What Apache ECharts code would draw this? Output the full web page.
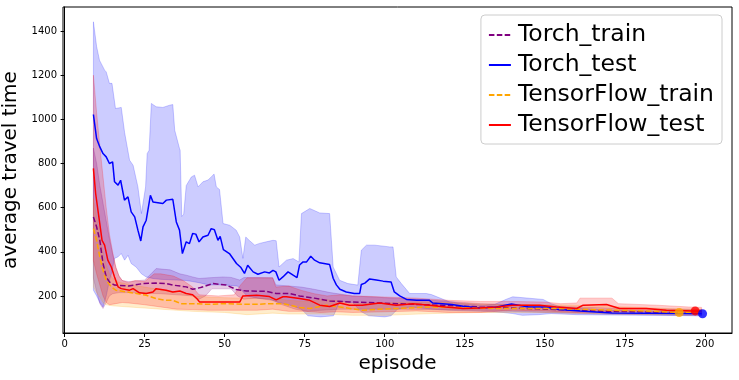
<!DOCTYPE html>
<html>
<head>
<meta charset="utf-8">
<script src="https://cdn.jsdelivr.net/npm/echarts@6/dist/echarts.min.js"></script>
<style>
  html, body { margin: 0; padding: 0; background: #fff; }
  #main { width: 739px; height: 380px; }
</style>
</head>
<body>
<div id="main"></div>
<script>
// tick labels
var xTicks = [0, 25, 50, 75, 100, 125, 150, 175, 200];
var yTicks = [200, 400, 600, 800, 1000, 1200, 1400];

// Torch_test (blue) mean and band, [episode, value]
var torchTestMean = [[9,1022],[10,913],[11,875],[12,845],[13,830],[14,800],[15,807],[15.6,717],[16.7,702],[17.5,724],[18.7,634],[19.8,649],[20.8,581],[21.9,558],[22.9,498],[23.8,449],[24.5,513],[25.5,543],[26.8,656],[27.6,626],[30.7,619],[31.8,634],[33.8,638],[34.9,535],[35.9,498],[36.8,392],[38,445],[39,437],[40,483],[41,480],[42,445],[43.2,467],[44.8,475],[45.8,505],[46.8,500],[47.9,452],[48.6,470],[49.6,410],[51.6,390],[53.7,347],[55,330],[56.2,302],[57.2,339],[58.9,309],[60.4,298],[62.5,309],[64,304],[65.1,316],[66,309],[67,271],[68.2,286],[69.8,309],[71.4,294],[72.6,283],[73.4,340],[74.5,354],[75.6,354],[76.9,380],[78.1,362],[79.7,350],[82.8,342],[83.9,280],[84.9,250],[86,230],[88,218],[90.5,211],[92.2,211],[92.7,252],[93.8,258],[95.3,277],[97.4,272],[99.5,267],[102,263],[103,218],[104.7,200],[106.8,184],[110,180],[114,180],[115,168],[118,165],[121,161],[124.5,153],[129.7,145],[135,150],[139.6,163],[145,150],[150.7,150],[153.6,140],[161,132],[171,123],[181.7,122],[192,120],[199,119]];
var torchTestUpper = [[9,1442],[10,1330],[10.9,1268],[12.5,1223],[13,1215],[14,1163],[14.8,1163],[15.9,1049],[17.7,1054],[18.75,940],[20.3,815],[21.4,792],[22.9,694],[24,573],[25.3,694],[25.8,845],[26.4,860],[27.1,1072],[28.6,1057],[30.7,1054],[32.8,1064],[33.8,1067],[34.4,951],[35.9,868],[36.1,860],[36.6,560],[37.2,570],[38,700],[39.6,739],[40.6,747],[41.7,694],[43.2,717],[44.8,725],[45.8,739],[46.7,752],[47.4,694],[48.4,682],[49.5,528],[51.6,520],[53.6,498],[54.7,467],[55.7,370],[56.6,467],[57.8,450],[59.4,430],[60.9,438],[63,445],[65.1,452],[66.1,450],[67,331],[69.3,362],[71.4,369],[73.2,354],[74,573],[76.6,596],[79.7,576],[82.8,573],[83.9,331],[85.9,271],[88.5,256],[91.6,249],[92.7,407],[94.3,430],[96.9,430],[101.6,422],[102.6,422],[103.6,286],[105.2,256],[107.8,211],[113,211],[114.6,206],[120.3,173],[124.5,165],[130.7,158],[134.4,162],[138,185],[140,196],[149.5,184],[152,165],[155,150],[170,135],[199,128]];
var torchTestLower = [[9,226],[10,200],[11,170],[12,150],[13,200],[14,270],[14.6,300],[15.6,370],[16.7,377],[17.7,392],[18.75,362],[19.8,384],[20.8,347],[22.4,330],[24,300],[25.5,286],[27.6,279],[30,275],[35,272],[38,270],[40,265],[42,260],[45,250],[49.5,250],[54,245],[57,200],[60,190],[64,185],[67,170],[70,160],[74,140],[76,110],[80,105],[84,110],[86,175],[90,170],[92.5,130],[95,110],[100,105],[102,110],[104,140],[108,150],[115,140],[120,135],[130,130],[137,125],[140,120],[143,112],[148,115],[152,120],[160,115],[199,110]];

// Torch_train (purple)
var torchTrainMean = [[9,558],[10,513],[11,452],[12,347],[13,286],[14,263],[15.6,249],[20,245],[24.5,256],[28.6,258],[31.7,256],[33.8,249],[38,241],[40,230],[42.5,238],[46.4,256],[50.5,249],[52.6,236],[53.6,229],[56.8,222],[63,221],[66.1,211],[70.3,211],[73.4,200],[78,190],[82.8,177],[89,173],[98.4,168],[108.8,162],[117,158],[129.7,150],[140,145],[150,140],[160,135],[170,130],[180,128],[190,125],[199,122]];
var torchTrainUpper = [[9,870],[10,800],[11,700],[12,620],[13,540],[14,460],[15,390],[16,330],[17,290],[18,270],[20,265],[25,272],[27,300],[28.6,324],[33,318],[36,300],[38,294],[40,286],[42,279],[45,282],[49.5,286],[52,284],[54.7,272],[56,283],[60,283],[65,282],[66,250],[70,245],[74,240],[78,230],[83,215],[90,200],[100,192],[110,185],[120,175],[130,165],[140,160],[150,155],[170,145],[199,138]];
var torchTrainLower = [[9,280],[10,220],[11,165],[12,143],[13,170],[14,200],[15,210],[17,215],[20,215],[25,212],[30,210],[35,205],[40,200],[42,185],[44,200],[46,232],[52,232],[54,200],[56,185],[60,190],[65,180],[68,160],[72,140],[76,130],[80,135],[86,140],[95,140],[105,140],[115,138],[130,135],[150,125],[170,118],[199,110]];

// TensorFlow_train (orange)
var tfTrainMean = [[9,505],[10,452],[11,377],[12,316],[13,271],[14.6,241],[16,226],[19.3,218],[22.4,211],[25.5,203],[28.6,188],[31.7,180],[33.8,180],[36.4,165],[40,165],[45,162],[50.5,165],[55.7,162],[60.9,162],[63,165],[68.2,165],[73.4,148],[76.6,143],[81.8,158],[86,150],[93,135],[98,140],[103.6,143],[114,150],[120,148],[129.7,144],[140,143],[150.7,143],[161,140],[171,135],[181.7,132],[192,125],[199,127]];
var tfTrainUpper = [[9,640],[10,560],[11,470],[12,400],[13,340],[14,300],[15,280],[17,262],[20,252],[25,240],[30,228],[35,215],[40,200],[45,195],[50,192],[55,190],[60,192],[65,190],[70,180],[75,175],[80,185],[85,178],[90,165],[100,168],[110,172],[120,170],[130,163],[140,160],[150,160],[160,158],[170,152],[180,148],[190,142],[199,140]];
var tfTrainLower = [[9,240],[10,215],[11,195],[12,170],[13,160],[15,155],[20,150],[25,145],[30,140],[35,135],[40,130],[50,125],[57,115],[65,122],[70,118],[80,118],[90,112],[100,112],[115,120],[130,125],[150,125],[170,118],[199,113]];

// TensorFlow_test (red)
var tfTestMean = [[9,778],[9.7,664],[10.7,558],[11.7,452],[12.5,430],[13.5,362],[14.6,331],[15.6,286],[16.7,241],[17.7,233],[20.3,226],[21.4,233],[23.4,214],[25.5,211],[27.6,218],[28.6,233],[31.7,226],[33.8,218],[36,222],[38,211],[40,205],[41.5,185],[42.2,172],[47,173],[52.3,173],[54.7,172],[55.7,200],[60,203],[64,197],[66.1,182],[68.2,196],[69.3,196],[73.4,188],[76.6,180],[79.7,158],[82.8,152],[86,168],[89,158],[93,158],[98.4,168],[103.6,158],[108.8,165],[114,158],[119,150],[124.5,143],[129.7,145],[135,150],[140,158],[148.4,158],[153.6,150],[160,143],[162,158],[169.3,161],[173.4,143],[181.7,143],[188,135],[197,132],[199,132]];
var tfTestUpper = [[9,1200],[10,1030],[11,880],[12,740],[13,600],[14,480],[15,400],[16,330],[17,290],[18,270],[20,260],[22,270],[25,265],[28,300],[30,300],[34,290],[37,270],[40,240],[42,205],[48,200],[53,205],[55,250],[57,282],[65,282],[66,240],[70,245],[74,225],[78,210],[82,200],[86,205],[90,200],[95,198],[100,195],[110,190],[120,180],[130,175],[140,175],[150,172],[155,165],[160,168],[161,190],[171,190],[173,165],[185,158],[195,150],[199,148]];
var tfTestLower = [[9,360],[10,300],[11,250],[12,200],[13,170],[14,160],[16,165],[18,170],[20,168],[25,160],[30,150],[35,140],[40,138],[45,135],[50,135],[55,135],[60,135],[65,140],[70,130],[75,130],[80,125],[85,128],[90,125],[100,128],[110,132],[120,125],[130,125],[140,135],[150,132],[155,128],[160,125],[170,128],[180,128],[190,120],[199,118]];

// end markers
var tfTrainDot = [[192, 125]];
var tfTestDot = [[197, 132]];
var torchTestDot = [[199.3, 119]];

var names = ['Torch_train', 'Torch_test', 'TensorFlow_train', 'TensorFlow_test'];
var colors = ['#800080', '#0000ff', '#ffa500', '#ff0000'];
var font = 'DejaVu Sans';

function band(upper, lower, fill) {
    return {
        type: 'custom',
        silent: true,
        clip: true,
        z: 1,
        data: [[100, 500]],
        renderItem: function (params, api) {
            var pts = upper.map(function (p) { return api.coord(p); });
            var low = lower.slice().reverse().map(function (p) { return api.coord(p); });
            return {
                type: 'polygon',
                shape: { points: pts.concat(low) },
                style: { fill: fill, stroke: fill, lineWidth: 1 }
            };
        }
    };
}

function meanLine(i, data, dashed) {
    return {
        name: names[i],
        type: 'line',
        data: data,
        symbol: 'none',
        z: 3 + i,
        lineStyle: { color: colors[i], width: 1.5, type: dashed ? [5.5, 2.4] : 'solid' },
        itemStyle: { color: colors[i] }
    };
}

function dot(data, color, z) {
    return {
        type: 'scatter',
        data: data,
        symbolSize: 9,
        silent: true,
        z: z,
        itemStyle: { color: color }
    };
}

var chart = echarts.init(document.getElementById('main'));

var option = {
    animation: false,
    grid: {
        left: 63, right: 7, top: 7, bottom: 47,
        outerBoundsMode: 'none',
        containLabel: false,
        show: true, borderColor: '#000', borderWidth: 1
    },
    legend: {
        data: names,
        orient: 'vertical',
        right: 17,
        top: 15,
        padding: [8, 8, 7, 7],
        itemGap: 6,
        itemWidth: 22,
        itemHeight: 14,
        itemStyle: { opacity: 0 },
        backgroundColor: 'rgba(255,255,255,0.8)',
        borderColor: '#cccccc',
        borderWidth: 1,
        borderRadius: 4,
        textStyle: { fontFamily: font, fontSize: 23.5, color: '#000', padding: [0, 0, 0, 2] }
    },
    xAxis: {
        type: 'value',
        min: -0.5,
        max: 208.5,
        name: 'episode',
        nameLocation: 'middle',
        nameGap: 18,
        nameTextStyle: { fontFamily: font, fontSize: 20, color: '#000' },
        splitLine: { show: false },
        axisLine: { lineStyle: { color: '#000', width: 1 } },
        axisTick: { length: 4, lineStyle: { color: '#000' }, customValues: xTicks },
        axisLabel: { fontFamily: font, fontSize: 10, color: '#000', margin: 6, customValues: xTicks }
    },
    yAxis: {
        type: 'value',
        min: 32,
        max: 1509,
        name: 'average travel time',
        nameLocation: 'middle',
        nameGap: 26,
        nameTextStyle: { fontFamily: font, fontSize: 20, color: '#000' },
        splitLine: { show: false },
        axisLine: { show: true, lineStyle: { color: '#000', width: 1 } },
        axisTick: { show: true, length: 4, lineStyle: { color: '#000' }, customValues: yTicks },
        axisLabel: {
            fontFamily: font, fontSize: 10, color: '#000', margin: 6, customValues: yTicks,
            formatter: function (v) { return String(v); }
        }
    },
    series: [
        band(torchTrainUpper, torchTrainLower, 'rgba(128,0,128,0.2)'),
        band(torchTestUpper, torchTestLower, 'rgba(0,0,255,0.2)'),
        band(tfTrainUpper, tfTrainLower, 'rgba(255,165,0,0.2)'),
        band(tfTestUpper, tfTestLower, 'rgba(255,0,0,0.2)'),
        meanLine(0, torchTrainMean, true),
        meanLine(1, torchTestMean, false),
        meanLine(2, tfTrainMean, true),
        meanLine(3, tfTestMean, false),
        dot(tfTrainDot, colors[2], 10),
        dot(tfTestDot, colors[3], 11),
        dot(torchTestDot, colors[1], 12)
    ]
};
chart.setOption(option);
</script>
</body>
</html>
